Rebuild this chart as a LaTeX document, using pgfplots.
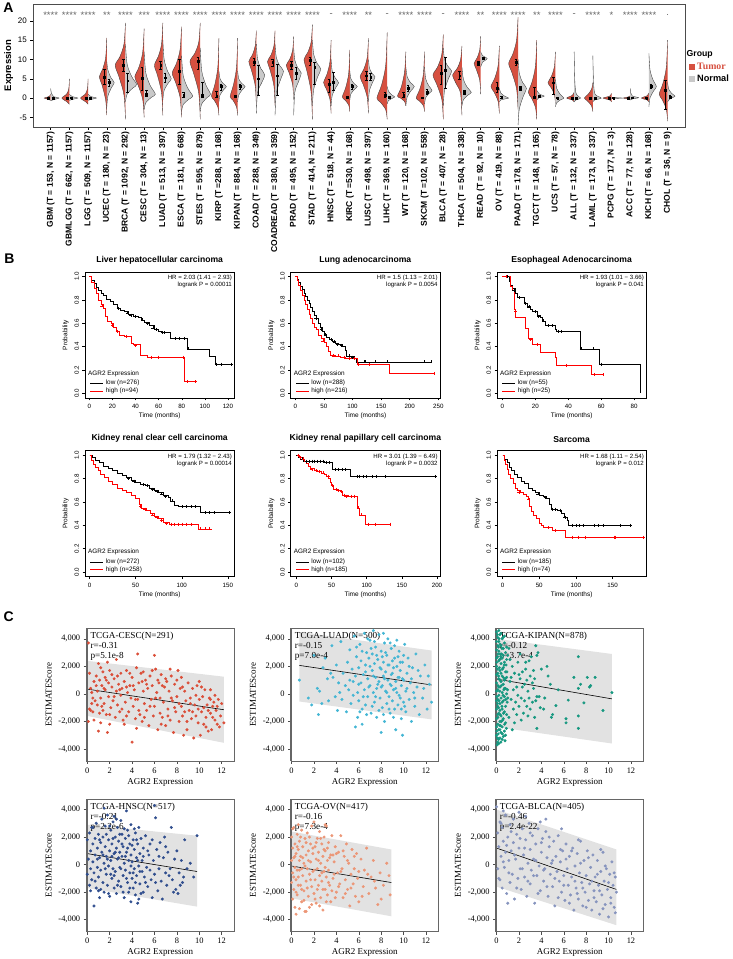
\documentclass[border=0pt]{standalone}
\usepackage{pgfplots}
\pgfplotsset{compat=1.18}
\usepackage{fontspec}
\setmainfont{Liberation Serif}
\newfontfamily\arial{Liberation Sans}
\newcommand\fs[1]{\fontsize{#1}{#1}\selectfont}

\definecolor{tumcol}{RGB}{214,80,64}
\definecolor{norcol}{RGB}{201,201,201}
\definecolor{vline}{RGB}{60,60,60}
\definecolor{bandcol}{RGB}{226,226,226}
\definecolor{cesc}{RGB}{219,78,56}
\definecolor{luad}{RGB}{68,182,212}
\definecolor{kipan}{RGB}{22,152,128}
\definecolor{hnsc}{RGB}{48,78,142}
\definecolor{ov}{RGB}{236,150,118}
\definecolor{blca}{RGB}{134,148,190}

\pgfplotsset{/pgf/number format/assume math mode=true}
\pgfplotsset{legend image code/.code={\draw (0pt,0pt) -- (13pt,0pt);}}
\tikzset{anno/.style={anchor=north west, align=left, font=\fontsize{9.2}{10}\selectfont, inner sep=0pt}}

% half violins: (half width, value) pairs mirrored about the category position
\newcommand\vT[2]{\addplot[draw=vline, line width=0.35pt, fill=tumcol, smooth, x filter/.expression={#1-x}] coordinates {#2};}
\newcommand\vN[2]{\addplot[draw=vline, line width=0.35pt, fill=norcol, smooth, x filter/.expression={#1+x}] coordinates {#2};}
\newcommand\hrtext[1]{\node[anchor=north east, align=right, font=\arial\fontsize{6.1}{7.2}\selectfont, inner sep=0pt] at (rel axis cs:0.985,0.975) {#1};}
\newcommand\legtitle{\node[anchor=south west, font=\arial\fs{6.4}, inner sep=0pt] at (rel axis cs:0.02,0.17) {AGR2 Expression};}

\pgfplotsset{
  km/.style={scale only axis, width=149.3pt, height=126pt,
    ymin=-0.04, ymax=1.04, ytick={0,0.2,0.4,0.6,0.8,1},
    yticklabel style={rotate=90, anchor=south, /pgf/number format/fixed, /pgf/number format/fixed zerofill, /pgf/number format/precision=1},
    tick label style={font=\arial\fs{6.2}},
    xlabel={Time (months)}, ylabel={Probability},
    label style={font=\arial\fs{6.5}},
    xlabel style={yshift=2pt}, ylabel style={yshift=-1pt},
    xtick pos=bottom, ytick pos=left, tick align=outside, major tick length=2.5pt,
    axis line style={black, line width=0.5pt}, tick style={black, line width=0.4pt},
    title style={font=\arial\bfseries\fs{8.6}, yshift=-1.5pt},
    legend style={at={(rel axis cs:0.03,0.01)}, anchor=south west, draw=none, fill=none, font=\arial\fs{6.4}, row sep=-2.5pt, inner sep=0.5pt},
    legend cell align=left},
  lowc/.style={const plot, black, line width=0.6pt},
  highc/.style={const plot, red, line width=0.6pt},
  cens/.style={forget plot, only marks, mark=+, mark size=1.5pt, mark options={line width=0.4pt}},
  scat/.style={scale only axis, width=147.3pt, height=132.5pt, clip=false,
    xmin=-0.05, xmax=13.1, ymin=-4870, ymax=4750,
    xtick={0,2,...,12}, ytick={-4000,-2000,0,2000,4000},
    yticklabels={{-4,000},{-2,000},0,{2,000},{4,000}},
    tick label style={font=\fs{8.4}},
    xlabel={AGR2 Expression}, ylabel={ESTIMATEScore},
    label style={font=\fs{9}}, xlabel style={yshift=2pt},
    xtick pos=bottom, ytick pos=left, tick align=outside, major tick length=3pt,
    axis line style={black!60, line width=0.5pt}, tick style={black!70, line width=0.5pt}},
  dots/.style={only marks, mark=*, mark size=1.3pt}
}

\begin{document}
\begin{tikzpicture}[x=1pt,y=1pt]
\path[use as bounding box] (0,0) rectangle (732,959);

% ---------------- panel A ----------------
\node[font=\arial\bfseries\fs{14}] at (8.5,951) {A};
\begin{axis}[at={(33.3pt,832pt)}, anchor=south west, scale only axis,
  width=651.7pt, height=122.7pt, clip=false,
  xmin=-0.93, xmax=33.93, ymin=-7.5, ymax=24.3,
  xtick={0,...,33},
  xticklabels={{GBM (T = 153, N = 1157)},{GBMLGG (T = 662, N = 1157)},{LGG (T = 509, N = 1157)},{UCEC (T = 180, N = 23)},{BRCA (T = 1092, N = 292)},{CESC (T = 304, N = 13)},{LUAD (T = 513, N = 397)},{ESCA (T = 181, N = 668)},{STES (T = 595, N = 879)},{KIRP (T =288, N = 168)},{KIPAN (T = 884, N = 168)},{COAD (T = 288, N = 349)},{COADREAD (T = 380, N = 359)},{PRAD (T = 495, N = 152)},{STAD (T = 414, N = 211)},{HNSC (T = 518, N = 44)},{KIRC (T =530, N = 168)},{LUSC (T = 498, N = 397)},{LIHC (T = 369, N = 160)},{WT (T = 120, N = 168)},{SKCM (T =102, N = 558)},{BLCA (T = 407, N = 28)},{THCA (T = 504, N = 338)},{READ (T = 92, N = 10)},{OV (T = 419, N = 88)},{PAAD (T = 178, N = 171)},{TGCT (T = 148, N = 165)},{UCS (T = 57, N = 78)},{ALL (T = 132, N = 337)},{LAML (T = 173, N = 337)},{PCPG (T = 177, N = 3)},{ACC (T = 77, N = 128)},{KICH (T = 66, N = 168)},{CHOL (T = 36, N = 9)}},
  xticklabel style={rotate=90, anchor=east, font=\arial\bfseries\fs{8.5}, inner sep=1.5pt},
  ytick={-5,0,5,10,15,20},
  yticklabel style={font=\arial\fs{8}},
  ylabel={Expression}, ylabel style={font=\arial\bfseries\fs{9.5}, yshift=-2pt},
  tick align=outside, xtick pos=bottom, ytick pos=left, major tick length=3pt,
  axis line style={black!70, line width=0.6pt}, tick style={black, line width=0.5pt}]
\vT{0}{(0,-0.6)(0.15,-0.3)(0.35,0)(0.15,0.3)(0.04,0.6)(0,1)}
\vN{0}{(0,-0.7)(0.2,-0.35)(0.45,0)(0.15,0.4)(0.04,1.2)(0,2.5)}
\vT{1}{(0,-1.6)(0.15,-0.9)(0.4,0)(0.15,1)(0.03,2.5)(0,5)}
\vN{1}{(0,-0.6)(0.2,-0.3)(0.45,0)(0.15,0.4)(0,1)}
\vT{2}{(0,-1.6)(0.15,-0.9)(0.4,0)(0.15,1)(0.03,2.5)(0,5)}
\vN{2}{(0,-0.6)(0.2,-0.3)(0.45,0)(0.15,0.4)(0,1)}
\vT{3}{(0,-4.4)(0.06,-0.5)(0.26,3.5)(0.4,5.5)(0.22,7.5)(0.06,10.5)(0,15.6)}
\vN{3}{(0,-2.5)(0.06,0.5)(0.26,2.8)(0.4,4)(0.22,5.3)(0.06,7.3)(0,9.5)}
\vT{4}{(0,-5.5)(0.08,0.8)(0.36,5.7)(0.55,8.5)(0.3,10.7)(0.08,14)(0,19.5)}
\vN{4}{(0,-1)(0.09,1)(0.39,2.6)(0.6,3.5)(0.33,5.6)(0.09,8.8)(0,14)}
\vT{5}{(0,-5)(0.08,-0.3)(0.33,3.4)(0.5,5.5)(0.28,8)(0.08,11.8)(0,18)}
\vN{5}{(0,-3)(0.09,-1.2)(0.39,0.2)(0.6,1)(0.33,3.2)(0.09,6.5)(0,12)}
\vT{6}{(0,-4.5)(0.07,1.4)(0.29,5.9)(0.45,8.5)(0.25,10.7)(0.07,14)(0,19.5)}
\vN{6}{(0,-0.5)(0.07,2)(0.29,3.9)(0.45,5)(0.25,7)(0.07,10)(0,15)}
\vT{7}{(0,-5)(0.08,0.2)(0.33,4.2)(0.5,6.5)(0.28,8.9)(0.08,12.5)(0,18.5)}
\vN{7}{(0,-3.5)(0.09,-1.7)(0.39,-0.3)(0.6,0.5)(0.33,2.6)(0.09,5.8)(0,11)}
\vT{8}{(0,-5.5)(0.08,1.3)(0.36,6.5)(0.55,9.5)(0.3,11.5)(0.08,14.5)(0,19.5)}
\vN{8}{(0,-3.5)(0.08,-1.5)(0.36,0.1)(0.55,1)(0.3,3.4)(0.08,7)(0,13)}
\vT{9}{(0,-4.5)(0.06,-2.3)(0.26,-0.5)(0.4,0.5)(0.22,3.5)(0.06,8)(0,15.5)}
\vN{9}{(0,-1)(0.06,0.8)(0.26,2.2)(0.4,3)(0.22,3.8)(0.06,5)(0,7)}
\vT{10}{(0,-4.5)(0.06,-2.3)(0.26,-0.5)(0.4,0.4)(0.22,3.5)(0.06,8)(0,15.5)}
\vN{10}{(0,-1)(0.06,0.8)(0.26,2.2)(0.4,3)(0.22,3.8)(0.06,5)(0,7)}
\vT{11}{(0,-2)(0.06,3.2)(0.26,7.2)(0.4,9.5)(0.22,11.1)(0.06,13.5)(0,17.5)}
\vN{11}{(0,-4)(0.07,1.5)(0.29,4)(0.45,6)(0.25,7.6)(0.07,10)(0,14)}
\vT{12}{(0,-2)(0.06,3.2)(0.26,7.2)(0.4,9.5)(0.22,11.1)(0.06,13.5)(0,17.5)}
\vN{12}{(0,-4.5)(0.07,1.3)(0.29,4.7)(0.45,7)(0.25,8.4)(0.07,10.5)(0,14)}
\vT{13}{(0,-0.5)(0.06,3.5)(0.26,6.7)(0.4,8.5)(0.22,10)(0.06,12.3)(0,16)}
\vN{13}{(0,-4.5)(0.06,1.5)(0.26,4.3)(0.4,6.5)(0.22,7.8)(0.06,9.8)(0,13)}
\vT{14}{(0,-5.5)(0.07,1.5)(0.29,6.9)(0.45,10)(0.25,11.8)(0.07,14.5)(0,19)}
\vN{14}{(0,-2)(0.07,2.3)(0.29,5.6)(0.45,7.5)(0.25,9)(0.07,11.3)(0,15)}
\vT{15}{(0,-4)(0.06,-0.4)(0.26,2.4)(0.4,4)(0.22,6.2)(0.06,9.5)(0,15)}
\vN{15}{(0,-2)(0.06,0.7)(0.26,2.8)(0.4,4)(0.22,5.2)(0.06,7)(0,10)}
\vT{16}{(0,-3.5)(0.06,-1.8)(0.26,-0.5)(0.4,0.3)(0.22,2.7)(0.06,6.4)(0,12.5)}
\vN{16}{(0,-0.5)(0.06,1.1)(0.26,2.3)(0.4,3)(0.22,3.8)(0.06,5)(0,7)}
\vT{17}{(0,-4)(0.07,0.2)(0.29,3.6)(0.45,5.5)(0.25,7.5)(0.07,10.5)(0,15.5)}
\vN{17}{(0,-1)(0.05,1.9)(0.23,4.2)(0.35,5.5)(0.19,6.4)(0.05,7.8)(0,10)}
\vT{18}{(0,-5.5)(0.08,-3)(0.36,-1.1)(0.55,0)(0.3,3.4)(0.08,8.5)(0,17)}
\vN{18}{(0,-1.5)(0.06,-0.7)(0.26,-0.1)(0.4,0.3)(0.22,0.9)(0.06,1.9)(0,3)}
\vT{19}{(0,-2)(0.07,-0.9)(0.29,0)(0.45,0.5)(0.25,2.8)(0.07,6.8)(0,12)}
\vN{19}{(0,-2)(0.07,0.3)(0.29,2)(0.45,3)(0.25,4)(0.07,5.5)(0,8)}
\vT{20}{(0,-3.5)(0.07,-1.9)(0.29,-0.7)(0.45,0)(0.25,2.4)(0.07,6)(0,12)}
\vN{20}{(0,-1.5)(0.06,0.1)(0.26,1.3)(0.4,2)(0.22,3.2)(0.06,5)(0,8)}
\vT{21}{(0,-5.5)(0.08,-0.3)(0.36,3.7)(0.55,6)(0.3,8.1)(0.08,11.3)(0,16.5)}
\vN{21}{(0,-2)(0.07,2)(0.29,5.2)(0.45,7)(0.25,8.2)(0.07,10)(0,13)}
\vT{22}{(0,-4.5)(0.08,1.3)(0.33,3.9)(0.5,6)(0.28,7.5)(0.08,9.8)(0,13.5)}
\vN{22}{(0,-2)(0.08,-0.4)(0.33,0.8)(0.5,1.5)(0.28,2.8)(0.08,4.8)(0,8)}
\vT{23}{(0,1)(0.05,4.6)(0.23,7.4)(0.35,9)(0.19,10.4)(0.05,12.5)(0,16)}
\vN{23}{(0,8)(0.1,9.3)(0.35,10.2)(0.1,11)(0,12)}
\vT{24}{(0,-4)(0.07,-0.8)(0.29,1.6)(0.45,3)(0.25,5.1)(0.07,8.3)(0,13.5)}
\vN{24}{(0,-1)(0.08,-0.5)(0.33,-0.2)(0.5,0)(0.28,0.5)(0.08,1.3)(0,2.5)}
\vT{25}{(0,-3)(0.08,2.4)(0.33,6.6)(0.5,9)(0.28,11.4)(0.08,15)(0,21)}
\vN{25}{(0,-7)(0.07,-2.8)(0.29,0.6)(0.45,2.5)(0.25,4)(0.07,6.3)(0,10)}
\vT{26}{(0,-5.5)(0.07,-2.4)(0.29,0.1)(0.45,1.5)(0.25,4.2)(0.07,8.3)(0,15)}
\vN{26}{(0,-0.5)(0.1,0)(0.4,0.5)(0.15,1)(0,2)}
\vT{27}{(0,-1.5)(0.06,1)(0.26,2.9)(0.4,4)(0.22,5.6)(0.06,8)(0,12)}
\vN{27}{(0,-2.3)(0.07,-1.2)(0.3,-0.4)(0.45,0)(0.25,1)(0.07,2.5)(0,5)}
\vT{28}{(0,-1)(0.1,-0.5)(0.4,0)(0.1,0.7)(0,1.5)}
\vN{28}{(0,-1)(0.1,-0.5)(0.35,0)(0.12,1)(0.04,4)(0,12)}
\vT{29}{(0,-3.5)(0.07,-2)(0.3,-0.7)(0.45,0)(0.25,1)(0.07,2.3)(0,4)}
\vN{29}{(0,-1)(0.1,-0.5)(0.45,0)(0.12,1)(0.04,4)(0,11)}
\vT{30}{(0,-1)(0.1,-0.5)(0.45,0)(0.1,0.5)(0,1.2)}
\vN{30}{(0,-0.15)(0.6,0)(0,0.15)}
\vT{31}{(0,-0.5)(0.1,-0.25)(0.37,0)(0.1,0.3)(0,0.6)}
\vN{31}{(0,-0.5)(0.15,-0.2)(0.45,0.1)(0.12,0.5)(0.03,1.3)(0,2.5)}
\vT{32}{(0,-1)(0.1,-0.5)(0.4,0)(0.1,0.6)(0,1.3)}
\vN{32}{(0,-2.3)(0.06,0.1)(0.26,1.9)(0.4,3)(0.22,4.7)(0.06,7.3)(0,11.6)}
\vT{33}{(0,-6)(0.07,-2.9)(0.29,-0.4)(0.45,1)(0.25,3.8)(0.07,8)(0,15)}
\vN{33}{(0,-1)(0.08,-0.4)(0.3,0.2)(0.4,0.5)(0.22,1.2)(0.06,2.3)(0,4)}
% medians with interquartile ranges
\addplot[black, only marks, mark=square*, mark size=0.9pt,
  error bars/.cd, y dir=both, y explicit,
  error bar style={line width=0.5pt, black}, error mark options={rotate=90, mark size=1.3pt, line width=0.5pt}]
  coordinates {
  (-0.12,0) += (0,0.2) -= (0,0.2)   (0.12,0) += (0,0.3) -= (0,0.1)
  (0.88,0) += (0,0.3) -= (0,0.3)    (1.12,0) += (0,0.1) -= (0,0.1)
  (1.88,0) += (0,0.3) -= (0,0.3)    (2.12,0) += (0,0.1) -= (0,0.1)
  (2.88,5.5) += (0,2) -= (0,2)      (3.12,4.2) += (0,0.8) -= (0,1.2)
  (3.88,8.5) += (0,1.5) -= (0,1.5)  (4.12,4.5) += (0,2) -= (0,3)
  (4.88,5.2) += (0,2.8) -= (0,3.2)  (5.12,1) += (0,1) -= (0,0.5)
  (5.88,8.5) += (0,1) -= (0,1)      (6.12,5.3) += (0,1) -= (0,1.3)
  (6.88,7) += (0,3) -= (0,3.5)      (7.12,0.8) += (0,0.7) -= (0,0.5)
  (7.88,9.5) += (0,1) -= (0,2)      (8.12,0.8) += (0,3.2) -= (0,0.5)
  (8.88,0.6) += (0,1.1) -= (0,0.4)  (9.12,3) += (0,0.5) -= (0,1)
  (9.88,0.4) += (0,0.4) -= (0,0.3)  (10.12,3) += (0,0.7) -= (0,0.8)
  (10.88,9.2) += (0,1) -= (0,0.7)   (11.12,5) += (0,3.5) -= (0,4.2)
  (11.88,9.2) += (0,0.8) -= (0,1)   (12.12,5.8) += (0,2.9) -= (0,5.1)
  (12.88,8.5) += (0,1) -= (0,1)     (13.12,6.5) += (0,1.5) -= (0,1.5)
  (13.88,9.8) += (0,0.9) -= (0,1.3) (14.12,8) += (0,1.2) -= (0,4.5)
  (14.88,3.5) += (0,1.5) -= (0,2)   (15.12,4.2) += (0,2.5) -= (0,2.2)
  (15.88,0.2) += (0,0.3) -= (0,0.2) (16.12,3) += (0,0.6) -= (0,0.6)
  (16.88,5.8) += (0,1.2) -= (0,1.3) (17.12,5.5) += (0,1) -= (0,1)
  (17.88,0.7) += (0,0.8) -= (0,0.4) (18.12,0.3) += (0,0.2) -= (0,0.2)
  (18.88,0.7) += (0,0.9) -= (0,0.4) (19.12,2.5) += (0,0.8) -= (0,0.7)
  (19.88,0.1) += (0,0.2) -= (0,0.1) (20.12,1.5) += (0,0.8) -= (0,0.5)
  (20.88,6.5) += (0,2) -= (0,3)     (21.12,7.3) += (0,3.2) -= (0,4.8)
  (21.88,5.8) += (0,1.2) -= (0,0.8) (22.12,1.5) += (0,0.5) -= (0,0.5)
  (22.88,9) += (0,0.5) -= (0,0.5)   (23.12,10.3) += (0,0.3) -= (0,0.3)
  (23.88,2.5) += (0,1.5) -= (0,1)   (24.12,0.2) += (0,0.2) -= (0,0.2)
  (24.88,9.2) += (0,0.8) -= (0,0.7) (25.12,2.5) += (0,0.5) -= (0,0.5)
  (25.88,0.3) += (0,2.5) -= (0,0.2) (26.12,0.5) += (0,0.2) -= (0,0.2)
  (26.88,4) += (0,1.5) -= (0,3)     (27.12,0) += (0,0.1) -= (0,0.1)
  (27.88,0) += (0,0.1) -= (0,0.1)   (28.12,0) += (0,0.1) -= (0,0.1)
  (28.88,0) += (0,0.1) -= (0,0.1)   (29.12,0) += (0,0.1) -= (0,0.1)
  (29.88,0) += (0,0.1) -= (0,0.1)   (30.12,0) += (0,0.1) -= (0,0.1)
  (30.88,0) += (0,0.1) -= (0,0.1)   (31.12,0.1) += (0,0.1) -= (0,0.1)
  (31.88,0) += (0,0.1) -= (0,0.1)   (32.12,3) += (0,0.7) -= (0,0.5)
  (32.88,2) += (0,2.7) -= (0,5)     (33.12,0.3) += (0,0.3) -= (0,0.3)
  };
% significance marks
\addplot[draw=none, mark=none, nodes near coords, point meta=explicit symbolic,
  every node near coord/.style={font=\arial\fs{9.5}, text=black!60, anchor=center}]
  table[row sep=\\, meta=s] {x y s\\
  0 21.4 ****\\ 1 21.4 ****\\ 2 21.4 ****\\ 3 21.4 **\\ 4 21.4 ****\\ 5 21.4 ***\\
  6 21.4 ****\\ 7 21.4 ****\\ 8 21.4 ****\\ 9 21.4 ****\\ 10 21.4 ****\\ 11 21.4 ****\\
  12 21.4 ****\\ 13 21.4 ****\\ 14 21.4 ****\\ 15 21.4 -\\ 16 21.4 ****\\ 17 21.4 **\\
  18 21.4 -\\ 19 21.4 ****\\ 20 21.4 ****\\ 21 21.4 -\\ 22 21.4 ****\\ 23 21.4 **\\
  24 21.4 ****\\ 25 21.4 ****\\ 26 21.4 **\\ 27 21.4 ****\\ 28 21.4 -\\ 29 21.4 ****\\
  30 21.4 *\\ 31 21.4 ****\\ 32 21.4 ****\\ 33 21.4 .\\};
\end{axis}
% group legend
\node[anchor=west, font=\arial\bfseries\fs{8.7}, inner sep=0pt] at (686.5,905) {Group};
\fill[tumcol] (688.5,889) rectangle (694.5,895);
\node[anchor=west, font=\bfseries\fs{9.8}, text=tumcol, inner sep=0pt] at (697,892.5) {Tumor};
\fill[norcol] (688.5,877) rectangle (694.5,883);
\node[anchor=west, font=\arial\bfseries\fs{9.2}, inner sep=0pt] at (697,880.5) {Normal};

% ---------------- panel B ----------------
\node[font=\arial\bfseries\fs{14}] at (9.5,700) {B};
\begin{axis}[km, at={(85pt,561pt)}, anchor=south west, xmin=-3.7, xmax=125.5, xtick={0,20,...,120}, title={Liver hepatocellular carcinoma}]
\addplot[lowc] coordinates {(0,1)(2,0.97)(4,0.94)(6,0.91)(8,0.88)(10,0.86)(12,0.84)(15,0.81)(18,0.79)(21,0.76)(24,0.73)(27,0.71)(30,0.70)(34,0.68)(38,0.66)(42,0.65)(45,0.63)(48,0.61)(52,0.58)(56,0.55)(60,0.53)(62,0.52)(70,0.47)(85,0.38)(104,0.32)(109,0.25)(123,0.25)};
\addplot[highc] coordinates {(0,1)(2,0.95)(4,0.9)(6,0.86)(8,0.8)(10,0.76)(12,0.73)(14,0.66)(16,0.62)(19,0.6)(21,0.57)(23,0.53)(26,0.5)(30,0.49)(36,0.43)(38,0.42)(44,0.33)(50,0.31)(82,0.1)(92,0.1)};
\addplot[cens, black] coordinates {(25,0.73)(33,0.69)(36,0.67)(40,0.66)(46,0.63)(50,0.6)(55,0.56)(58,0.55)(63,0.52)(65,0.52)(74,0.47)(78,0.47)(82,0.47)(86,0.38)(110,0.25)(114,0.25)(123,0.25)};
\addplot[cens, red] coordinates {(11,0.75)(20,0.58)(24,0.53)(32,0.49)(40,0.41)(54,0.31)(60,0.31)(81,0.31)(85,0.1)(92,0.1)};
\legend{low (n=276), high (n=94)}
\legtitle
\hrtext{HR = 2.03 (1.41 − 2.93)\\logrank P = 0.00011}
\end{axis}

\begin{axis}[km, at={(290.7pt,561pt)}, anchor=south west, xmin=-8, xmax=253, xtick={0,50,...,250}, title={Lung adenocarcinoma}]
\addplot[lowc] coordinates {(0,1)(3,0.98)(6,0.95)(9,0.92)(12,0.89)(15,0.86)(18,0.83)(21,0.80)(24,0.77)(27,0.74)(30,0.70)(33,0.67)(36,0.64)(40,0.6)(43,0.57)(47,0.53)(50,0.51)(55,0.48)(60,0.46)(65,0.45)(70,0.43)(75,0.42)(82,0.40)(87,0.37)(89,0.32)(104,0.30)(107,0.27)(238,0.27)};
\addplot[highc] coordinates {(0,1)(3,0.97)(6,0.93)(9,0.88)(12,0.84)(15,0.80)(18,0.76)(21,0.72)(24,0.68)(27,0.64)(30,0.60)(33,0.57)(36,0.55)(40,0.50)(45,0.47)(50,0.44)(55,0.40)(58,0.36)(62,0.33)(70,0.32)(78,0.31)(87,0.30)(108,0.25)(165,0.17)(243,0.17)};
\addplot[cens, black] coordinates {(36,0.64)(45,0.55)(52,0.5)(62,0.46)(68,0.44)(74,0.42)(80,0.41)(95,0.32)(100,0.31)(120,0.27)(123,0.27)(140,0.27)(160,0.27)(225,0.27)(237,0.27)};
\addplot[cens, red] coordinates {(48,0.45)(66,0.32)(75,0.32)(85,0.31)(95,0.30)(103,0.30)(110,0.25)(130,0.25)(242,0.17)};
\legend{low (n=288), high (n=216)}
\legtitle
\hrtext{HR = 1.5 (1.13 − 2.01)\\logrank P = 0.0054}
\end{axis}

\begin{axis}[km, at={(497pt,561pt)}, anchor=south west, xmin=-3.3, xmax=87.4, xtick={0,20,...,80}, title={Esophageal Adenocarcinoma}]
\addplot[lowc] coordinates {(0,1)(4,0.96)(5,0.93)(6,0.9)(8,0.86)(9,0.82)(13,0.77)(15,0.75)(17,0.72)(18,0.7)(21,0.67)(23,0.65)(24,0.62)(26,0.58)(32,0.55)(33,0.53)(47,0.38)(59,0.25)(84,0)};
\addplot[highc] coordinates {(0,1)(5,0.92)(6,0.88)(7,0.72)(8,0.65)(14,0.56)(16,0.47)(18,0.42)(23,0.35)(32,0.31)(33,0.24)(54,0.16)(61,0.16)};
\addplot[cens, black] coordinates {(3,1)(7,0.88)(10,0.82)(14,0.77)(16,0.74)(20,0.7)(22,0.66)(25,0.62)(28,0.58)(30,0.58)(34,0.53)(36,0.53)(48,0.38)(55,0.38)(60,0.25)};
\addplot[cens, red] coordinates {(2,1)(8,0.7)(17,0.46)(21,0.42)(39,0.24)(56,0.16)(61,0.16)};
\legend{low (n=55), high (n=25)}
\legtitle
\hrtext{HR = 1.93 (1.01 − 3.66)\\logrank P = 0.041}
\end{axis}

\begin{axis}[km, at={(85pt,382.3pt)}, anchor=south west, xmin=-5, xmax=157, xtick={0,50,100,150}, title={Kidney renal clear cell carcinoma}]
\addplot[lowc] coordinates {(0,1)(3,0.98)(6,0.96)(10,0.94)(15,0.91)(20,0.89)(25,0.87)(30,0.85)(35,0.83)(40,0.81)(45,0.79)(50,0.77)(55,0.75)(60,0.74)(65,0.72)(70,0.70)(75,0.68)(80,0.66)(85,0.64)(88,0.61)(92,0.57)(96,0.56)(120,0.51)(152,0.51)};
\addplot[highc] coordinates {(0,1)(2,0.96)(4,0.92)(6,0.9)(9,0.87)(12,0.84)(16,0.81)(20,0.78)(25,0.75)(30,0.72)(35,0.70)(40,0.68)(45,0.66)(50,0.63)(54,0.58)(56,0.55)(62,0.53)(66,0.50)(70,0.48)(75,0.46)(80,0.43)(86,0.41)(118,0.37)(133,0.37)};
\addplot[cens, black] coordinates {(42,0.8)(48,0.78)(58,0.75)(62,0.74)(68,0.71)(73,0.69)(78,0.67)(82,0.65)(90,0.61)(100,0.56)(105,0.56)(110,0.56)(115,0.56)(125,0.51)(130,0.51)(135,0.51)(152,0.51)};
\addplot[cens, red] coordinates {(55,0.56)(60,0.54)(68,0.49)(73,0.47)(78,0.44)(83,0.42)(88,0.41)(92,0.41)(96,0.41)(100,0.41)(105,0.41)(110,0.41)(120,0.37)(125,0.37)(130,0.37)};
\legend{low (n=272), high (n=258)}
\legtitle
\hrtext{HR = 1.79 (1.32 − 2.43)\\logrank P = 0.00014}
\end{axis}

\begin{axis}[km, at={(290.7pt,382.3pt)}, anchor=south west, xmin=-8.1, xmax=204.3, xtick={0,50,...,200}, title={Kidney renal papillary cell carcinoma}]
\addplot[lowc] coordinates {(0,1)(3,0.99)(6,0.97)(10,0.95)(40,0.94)(51,0.88)(76,0.82)(198,0.82)};
\addplot[highc] coordinates {(0,1)(2,0.99)(5,0.98)(8,0.97)(11,0.95)(14,0.93)(17,0.91)(20,0.89)(25,0.87)(30,0.86)(35,0.85)(40,0.84)(43,0.82)(46,0.80)(48,0.77)(50,0.74)(52,0.71)(58,0.70)(62,0.69)(66,0.66)(74,0.65)(86,0.55)(89,0.49)(94,0.49)(98,0.41)(133,0.41)};
\addplot[cens, black] coordinates {(2,1)(5,0.98)(8,0.97)(14,0.95)(18,0.95)(22,0.95)(26,0.95)(30,0.95)(34,0.95)(38,0.95)(42,0.94)(46,0.94)(55,0.88)(60,0.88)(65,0.88)(70,0.88)(86,0.82)(90,0.82)(95,0.82)(100,0.82)(108,0.82)(113,0.82)(127,0.82)(198,0.82)};
\addplot[cens, red] coordinates {(3,1)(6,0.98)(10,0.97)(22,0.88)(28,0.87)(33,0.86)(38,0.85)(45,0.82)(51,0.74)(56,0.71)(60,0.7)(64,0.69)(68,0.66)(71,0.65)(78,0.65)(82,0.65)(88,0.55)(92,0.49)(102,0.41)(112,0.41)(133,0.41)};
\legend{low (n=102), high (n=185)}
\legtitle
\hrtext{HR = 3.01 (1.39 − 6.49)\\logrank P = 0.0032}
\end{axis}

\begin{axis}[km, at={(497pt,382.3pt)}, anchor=south west, xmin=-7.6, xmax=196, xtick={0,50,100,150}, title={Sarcoma}]
\addplot[lowc] coordinates {(0,1)(3,0.97)(6,0.94)(9,0.90)(12,0.87)(16,0.84)(20,0.81)(25,0.78)(30,0.76)(35,0.72)(40,0.70)(45,0.68)(50,0.66)(55,0.65)(60,0.63)(64,0.58)(66,0.54)(75,0.53)(80,0.50)(84,0.47)(88,0.44)(90,0.40)(174,0.40)};
\addplot[highc] coordinates {(0,1)(2,0.96)(4,0.92)(6,0.88)(8,0.84)(10,0.80)(14,0.76)(17,0.72)(20,0.70)(24,0.68)(28,0.67)(32,0.65)(35,0.62)(37,0.56)(39,0.52)(42,0.49)(46,0.46)(50,0.42)(53,0.40)(55,0.38)(68,0.36)(86,0.30)(192,0.30)};
\addplot[cens, black] coordinates {(48,0.67)(58,0.64)(68,0.54)(72,0.54)(78,0.53)(85,0.47)(95,0.4)(100,0.4)(105,0.4)(110,0.4)(125,0.4)(130,0.4)(137,0.4)(161,0.4)(174,0.4)};
\addplot[cens, red] coordinates {(22,0.68)(36,0.62)(62,0.38)(72,0.36)(95,0.3)(103,0.3)(112,0.3)(152,0.3)(154,0.3)(192,0.3)};
\legend{low (n=185), high (n=74)}
\legtitle
\hrtext{HR = 1.68 (1.11 − 2.54)\\logrank P = 0.012}
\end{axis}

% ---------------- panel C ----------------
\node[font=\arial\bfseries\fs{14}] at (8.7,342) {C};
\begin{axis}[scat, at={(86.7pt,198pt)}, anchor=south west]
\addplot[fill=bandcol, draw=none] coordinates {(0,2400)(12.2,1250)(12.2,-3550)(0,-1600)};
\node[anno] at (rel axis cs:0.025,0.975) {TCGA-CESC(N=291)\\r=-0.31\\p=5.1e-8};
\addplot[dots, cesc] coordinates {(0.1,3700)(0.1,-2000)(0.2,-1100)(0.3,400)(0.3,-1200)(0.4,100)(0.5,-300)(0.5,-1300)(0.6,900)(0.7,-500)(0.8,1300)(0.9,-800)(0.9,200)(1.0,2200)(1.0,-2700)(1.1,1000)(1.1,-1400)(1.2,-300)(1.3,600)(1.4,1600)(1.4,-1200)(1.5,-700)(1.6,1200)(1.6,300)(1.7,-1500)(1.8,2300)(1.8,-2800)(1.9,800)(1.9,-200)(2.0,1700)(2.1,-1000)(2.2,500)(2.3,-500)(2.4,1100)(2.5,-1700)(2.6,2500)(2.6,200)(2.7,-800)(2.8,700)(2.9,-1300)(3.0,1500)(3.0,-100)(3.1,400)(3.2,-1900)(3.3,900)(3.4,-600)(3.5,1700)(3.6,100)(3.7,-1300)(3.8,600)(3.9,-300)(4.0,-3500)(4.0,1200)(4.1,-900)(4.2,300)(4.3,-1800)(4.4,1900)(4.5,2900)(4.5,-400)(4.6,800)(4.7,-1500)(4.8,1500)(4.9,-2000)(5.0,200)(5.1,-700)(5.2,1000)(5.3,-1200)(5.4,400)(5.5,-2300)(5.6,1300)(5.7,-400)(5.8,600)(5.9,-1600)(6.0,2800)(6.0,-900)(6.1,1800)(6.2,100)(6.3,-2600)(6.4,800)(6.5,-300)(6.6,1400)(6.7,-1700)(6.8,-600)(6.9,500)(7.0,-2300)(7.1,900)(7.2,-1100)(7.3,200)(7.4,-1900)(7.5,1300)(7.6,-500)(7.7,-2800)(7.8,700)(7.9,-1300)(8.0,-200)(8.1,1700)(8.2,-2000)(8.3,400)(8.4,-900)(8.5,-1600)(8.6,-3000)(8.7,200)(8.8,-500)(8.9,-2000)(9.0,800)(9.1,-1200)(9.2,-300)(9.3,-1800)(9.4,400)(9.5,-3200)(9.6,-800)(9.7,-1600)(9.8,600)(9.9,-2100)(10.0,900)(10.0,-400)(10.1,-3000)(10.2,-1300)(10.3,-200)(10.4,-2200)(10.5,300)(10.6,-1700)(10.7,-800)(10.8,-2700)(10.9,-300)(11.0,300)(11.0,-1400)(11.1,-2600)(11.2,-900)(11.3,-600)(11.4,-1900)(11.5,-1200)(11.6,-2200)(11.7,-400)(11.9,-1600)(12.2,-2100)};
\addplot[dots, cesc] coordinates {(0.2,1500)(0.4,-700)(0.6,-1900)(0.8,600)(1.2,1900)(1.3,-900)(1.5,400)(1.7,1000)(2.0,-1500)(2.2,1400)(2.4,-200)(2.7,1300)(2.9,300)(3.1,-1100)(3.3,-2200)(3.5,500)(3.8,1500)(4.1,600)(4.3,-400)(4.6,-1200)(4.9,900)(5.1,-1700)(5.3,700)(5.6,-900)(5.8,1700)(6.1,-300)(6.3,1000)(6.5,-1400)(6.7,600)(7.0,1100)(7.2,-1600)(7.5,-300)(7.8,-1000)(8.0,1000)(8.2,-700)(8.5,500)(8.7,-1300)(8.9,-2600)(9.2,-700)(9.4,-1300)(9.7,-100)(9.9,-1100)(10.2,500)(10.4,-1000)(10.6,-2400)(10.8,-1200)(11.0,-400)(11.2,-1700)(11.4,-100)(11.6,-900)(11.8,-2400)(12.0,-700)(2.0,-2200)(3.5,-1600)(5.0,1600)(6.6,-2200)(8.4,1200)(1.2,-2100)(4.4,-2500)(7.4,1800)};
\addplot[black, line width=0.6pt] coordinates {(0,350)(12.2,-1150)};
\draw[line width=1.6pt, black!60] (rel axis cs:0,0) -- (rel axis cs:0,1);
\end{axis}

\begin{axis}[scat, at={(291pt,198pt)}, anchor=south west]
\addplot[fill=bandcol, draw=none] coordinates {(0.7,4500)(12.5,3150)(12.5,-1850)(0.7,-550)};
\node[anno] at (rel axis cs:0.025,0.975) {TCGA-LUAD(N=500)\\r=-0.15\\p=7.0e-4};
\addplot[dots, luad] coordinates {(0.7,1000)(1.5,-300)(1.8,-800)(2.0,2800)(2.3,400)(2.4,-1500)(2.5,200)(2.8,1900)(3.0,2600)(3.2,1100)(3.3,-500)(3.6,3500)(3.7,1200)(3.9,-200)(4.0,2100)(4.1,-1200)(4.2,800)(4.4,3800)(4.5,-400)(4.6,1500)(4.8,600)(4.9,-1300)(5.0,2300)(5.1,300)(5.2,3200)(5.3,-700)(5.4,1800)(5.5,900)(5.6,4200)(5.7,-2400)(5.7,1300)(5.8,2700)(5.9,100)(6.0,1900)(6.0,-500)(6.1,3600)(6.2,800)(6.2,2400)(6.3,-1100)(6.4,1400)(6.5,4400)(6.5,300)(6.6,2100)(6.6,-800)(6.7,3000)(6.8,1100)(6.8,-200)(6.9,2600)(7.0,600)(7.0,3900)(7.1,-1400)(7.2,1700)(7.2,2900)(7.3,100)(7.4,2200)(7.4,-600)(7.5,1200)(7.5,3400)(7.6,400)(7.6,-1700)(7.7,2500)(7.8,900)(7.8,4300)(7.9,-300)(8.0,1800)(8.0,3100)(8.1,-1000)(8.1,600)(8.2,2300)(8.2,1300)(8.3,-2000)(8.3,3700)(8.4,200)(8.4,1600)(8.5,2800)(8.5,-700)(8.6,1000)(8.6,4000)(8.7,-200)(8.7,2100)(8.8,700)(8.8,-1400)(8.9,3300)(8.9,1400)(9.0,-500)(9.0,2400)(9.1,300)(9.1,1900)(9.2,-1100)(9.2,3500)(9.3,900)(9.3,-2600)(9.4,2000)(9.4,100)(9.5,2700)(9.5,-800)(9.6,1200)(9.6,3100)(9.7,-300)(9.7,1700)(9.8,600)(9.8,-1800)(9.9,2300)(10.0,-600)(10.0,1000)(10.1,3600)(10.2,200)(10.2,-1300)(10.3,1500)(10.4,2600)(10.5,-400)(10.6,800)(10.7,-2000)(10.8,1900)(10.9,100)(11.0,-900)(11.1,2900)(11.2,500)(11.4,-1500)(11.5,1300)(11.7,-300)(11.9,2100)(12.1,-1100)(12.3,700)(12.5,-600)(7.3,4600)(8.0,-2800)(9.9,-3000)(6.3,-2200)};
\addplot[dots, luad] coordinates {(5.2,1000)(5.5,-100)(5.8,3400)(6.0,700)(6.1,-1300)(6.3,3100)(6.4,-200)(6.6,1600)(6.7,-1500)(6.9,500)(7.0,2000)(7.1,3300)(7.2,-900)(7.3,1300)(7.4,3800)(7.5,-200)(7.6,2800)(7.7,700)(7.8,-1200)(7.9,1900)(8.0,500)(8.1,2700)(8.2,-1500)(8.3,1100)(8.4,3000)(8.5,100)(8.6,2100)(8.7,-1100)(8.8,3700)(8.9,600)(9.0,1500)(9.1,-1700)(9.2,2600)(9.3,400)(9.4,3900)(9.5,1200)(9.6,-100)(9.7,2300)(9.8,-1100)(9.9,1100)(10.0,2800)(10.1,-900)(10.3,400)(10.5,2000)(10.7,1100)(11.0,-300)(11.3,1700)(11.8,400)(12.2,1300)(4.3,100)(3.5,1500)(2.7,-700)(5.9,-1700)(6.8,4000)(8.2,4400)};
\addplot[black, line width=0.6pt] coordinates {(0.7,2070)(12.5,650)};
\draw[line width=1.6pt, black!60] (rel axis cs:0,0) -- (rel axis cs:0,1);
\end{axis}

\begin{axis}[scat, at={(496pt,198pt)}, anchor=south west]
\addplot[fill=bandcol, draw=none] coordinates {(0,4000)(10.3,2900)(10.3,-3600)(0,-2400)};
\node[anno] at (rel axis cs:0.025,0.975) {TCGA-KIPAN(N=878)\\r=-0.12\\p=3.7e-4};
\addplot[dots, kipan] coordinates {(0.0,4500)(0.0,3200)(0.0,2000)(0.0,800)(0.0,-500)(0.0,-1800)(0.0,-3000)(0.1,4100)(0.1,2700)(0.1,1500)(0.1,300)(0.1,-900)(0.1,-2200)(0.1,-3500)(0.2,3800)(0.2,2400)(0.2,1100)(0.2,-100)(0.2,-1400)(0.2,-2600)(0.2,-3600)(0.3,4300)(0.3,2900)(0.3,1700)(0.3,500)(0.3,-700)(0.3,-2000)(0.3,-3200)(0.4,3500)(0.4,2200)(0.4,900)(0.4,-300)(0.4,-1600)(0.4,-2800)(0.5,4000)(0.5,2600)(0.5,1300)(0.5,100)(0.5,-1100)(0.5,-2400)(0.6,3300)(0.6,1900)(0.6,700)(0.6,-500)(0.6,-1800)(0.6,-3100)(0.7,3700)(0.7,2300)(0.7,1000)(0.7,-200)(0.7,-1300)(0.7,-2700)(0.8,3000)(0.8,1600)(0.8,400)(0.8,-900)(0.8,-2100)(0.9,2500)(0.9,1200)(0.9,0)(0.9,-1500)(0.0,3800)(0.0,2600)(0.0,1400)(0.0,200)(0.0,-1100)(0.0,-2400)(0.1,3500)(0.1,-400)(0.1,-1500)(0.2,4600)(0.2,3100)(0.2,500)(0.3,-1200)(0.3,-2600)(0.4,4400)(0.4,1500)(0.5,-600)(0.5,-3300)(0.6,2800)(0.6,1200)(0.7,4200)(0.7,400)(0.8,-3000)(0.9,3400)(0.05,-3700)(0.15,-2900)(0.25,1900)(0.35,-2300)(0.45,2900)(0.55,-1900)(0.65,300)(0.75,-3400)(0.85,2100)(0.95,-600)};
\addplot[dots, kipan] coordinates {(0.02,2300)(0.02,-200)(0.02,-2700)(0.08,4300)(0.08,1800)(0.08,-700)(0.08,-3200)(0.12,2900)(0.12,600)(0.12,-1700)(0.18,3400)(0.18,1300)(0.18,-1000)(0.18,-3300)(0.22,4000)(0.22,-500)(0.28,2500)(0.28,200)(0.28,-2300)(0.32,3600)(0.32,1000)(0.32,-1500)(0.38,-3500)(0.38,2700)(0.42,600)(0.42,-2000)(0.48,3300)(0.48,-900)(0.52,1800)(0.52,-2900)(0.58,4100)(0.58,-100)(0.62,-1400)(0.68,2100)(0.72,-2200)(0.78,1100)(0.82,-400)(0.88,-2500)(0.92,1600)(0.98,300)};
\addplot[dots, kipan] coordinates {(1.0,2800)(1.1,-1700)(1.2,900)(1.3,-400)(1.4,2000)(1.5,-1100)(1.6,1500)(1.7,-600)(1.8,500)(1.9,2300)(2.0,-900)(2.1,1100)(2.2,-300)(2.3,1600)(2.4,-1400)(2.5,700)(2.6,1800)(2.7,-900)(2.8,200)(2.9,2400)(3.0,1300)(3.1,2700)(3.2,-600)(3.3,400)(3.4,-1700)(3.5,3500)(3.6,-200)(3.7,3000)(3.8,-200)(4.0,1800)(1.2,2500)(1.5,300)(1.8,-1500)(2.0,1400)(2.2,-1900)(2.5,-500)(2.7,1000)(3.0,-1100)(3.3,1700)(3.5,-500)(1.0,-300)(1.3,1200)(1.6,-2100)(1.9,-100)(2.3,500)(2.6,2300)(2.9,-300)(3.2,800)(3.6,2800)(3.9,-1000)(1.1,3300)(1.4,-2600)(2.1,2900)(2.8,-1600)(3.4,1100)(4.5,2000)(4.6,1300)(4.3,-300)(4.8,700)(4.9,-1700)(5.0,-1500)(5.3,-850)(6.2,-1800)(6.2,-2100)(6.4,-450)(6.9,1200)(7.3,2700)(7.3,400)(7.3,-1600)(7.3,-2500)(7.5,700)(7.8,-650)(8.1,1200)(8.3,500)(8.4,600)(8.8,1200)(9.5,-1200)(10.3,100)(3.6,-2500)(4.2,-1100)(5.5,300)};
\addplot[black, line width=0.6pt] coordinates {(0,1080)(10.3,-360)};
\draw[line width=1.6pt, black!60] (rel axis cs:0,0) -- (rel axis cs:0,1);
\end{axis}

\begin{axis}[scat, at={(86.7pt,27.3pt)}, anchor=south west]
\addplot[fill=bandcol, draw=none] coordinates {(0,2900)(9.8,2100)(9.8,-3050)(0,-1700)};
\node[anno] at (rel axis cs:0.025,0.975) {TCGA-HNSC(N=517)\\r=-0.21\\p=2.2e-6};
\addplot[dots, hnsc] coordinates {(0.0,1800)(0.0,-700)(0.1,400)(0.2,2300)(0.2,-1500)(0.3,1000)(0.3,-300)(0.4,2700)(0.4,-1100)(0.5,1500)(0.5,200)(0.6,-3000)(0.6,-600)(0.7,1900)(0.7,700)(0.8,-1700)(0.8,3000)(0.9,-200)(0.9,1200)(1.0,2200)(1.0,-900)(1.1,-2400)(1.1,500)(1.2,1600)(1.2,-400)(1.3,3300)(1.3,900)(1.4,-1300)(1.4,2000)(1.5,100)(1.5,-2000)(1.6,1300)(1.6,2800)(1.7,-700)(1.7,600)(1.8,3600)(1.8,-1500)(1.9,1800)(1.9,-100)(2.0,1000)(2.0,-2300)(2.1,2500)(2.1,300)(2.2,-1000)(2.2,1500)(2.3,-300)(2.3,3100)(2.4,800)(2.4,-1700)(2.5,2000)(2.5,-500)(2.6,1200)(2.6,-2100)(2.7,400)(2.7,2700)(2.8,-1200)(2.8,1700)(2.9,-200)(2.9,900)(3.0,3200)(3.0,-1600)(3.1,600)(3.1,2200)(3.2,-800)(3.2,1300)(3.3,-2400)(3.3,100)(3.4,1900)(3.4,-400)(3.5,3900)(3.5,900)(3.6,-1300)(3.6,2500)(3.7,300)(3.7,-2000)(3.8,1500)(3.8,-600)(3.9,700)(3.9,2900)(4.0,-1000)(4.0,200)(4.1,1800)(4.1,-1700)(4.2,-300)(4.2,1100)(4.3,2300)(4.3,-2200)(4.4,500)(4.4,-800)(4.5,1500)(4.5,-2800)(4.6,-100)(4.6,2700)(4.7,800)(4.7,-1400)(4.8,1900)(4.9,-500)(4.9,300)(5.0,-2000)(5.0,1200)(5.1,-900)(5.2,2100)(5.3,-200)(5.4,-1600)(5.5,700)(5.6,1500)(5.7,-1100)(5.8,-2400)(5.9,300)(6.0,4300)(6.0,-700)(6.1,3400)(6.2,1100)(6.3,-1900)(6.4,-300)(6.5,1600)(6.6,-1200)(6.8,500)(6.9,2000)(7.0,-600)(7.1,-1500)(7.2,900)(7.4,-300)(7.5,2700)(7.6,-1100)(7.8,400)(7.9,-1800)(8.0,1000)(8.1,-2100)(8.2,-600)(8.4,300)(8.5,-1300)(8.7,1800)(8.9,-300)(9.2,100)(9.5,-900)(9.8,2100)(1.5,4100)(2.4,3500)(3.9,-2700)(4.6,-2500)(1.0,-1900)};
\addplot[dots, hnsc] coordinates {(0.3,-1900)(0.5,2700)(0.7,-1200)(0.9,400)(1.1,1800)(1.2,-1800)(1.4,700)(1.6,-300)(1.7,2200)(1.8,400)(1.9,-2100)(2.0,2800)(2.1,-700)(2.2,600)(2.3,1900)(2.4,-800)(2.5,900)(2.6,3300)(2.7,-1500)(2.8,500)(2.9,2200)(3.0,-300)(3.1,1500)(3.2,-2000)(3.3,2600)(3.4,600)(3.5,-1000)(3.6,1200)(3.7,2100)(3.8,-1700)(3.9,-100)(4.0,1400)(4.1,-600)(4.2,2600)(4.3,-1300)(4.4,1800)(4.5,300)(4.7,-500)(4.8,-2100)(5.0,600)(5.2,-1300)(5.4,1000)(5.6,-400)(5.8,1800)(6.1,-1300)(6.4,600)(6.7,-2500)(7.0,1300)(7.3,-800)(7.7,-2000)(8.3,-1500)(8.6,-900)};
\addplot[black, line width=0.6pt] coordinates {(0,800)(9.8,-500)};
\draw[line width=1.6pt, black!60] (rel axis cs:0,0) -- (rel axis cs:0,1);
\end{axis}

\begin{axis}[scat, at={(291pt,27.3pt)}, anchor=south west]
\addplot[fill=bandcol, draw=none] coordinates {(0,2400)(8.9,1100)(8.9,-3750)(0,-2450)};
\node[anno] at (rel axis cs:0.025,0.975) {TCGA-OV(N=417)\\r=-0.16\\p=7.3e-4};
\addplot[dots, ov] coordinates {(0.0,2000)(0.0,300)(0.0,-1300)(0.1,1200)(0.1,-600)(0.1,-2500)(0.2,2700)(0.2,500)(0.2,-1800)(0.3,1500)(0.3,-200)(0.3,-3100)(0.4,800)(0.4,-1100)(0.5,2200)(0.5,-400)(0.5,-2200)(0.6,1100)(0.6,-900)(0.7,300)(0.7,-3200)(0.7,1700)(0.8,-1500)(0.8,600)(0.9,2500)(0.9,-300)(0.9,-2700)(1.0,1300)(1.0,-800)(1.1,100)(1.1,-1900)(1.2,1900)(1.2,-3400)(1.3,700)(1.3,-1200)(1.4,-300)(1.4,2300)(1.5,-2300)(1.5,1000)(1.6,-700)(1.6,-3100)(1.7,1500)(1.7,200)(1.8,-1600)(1.8,2800)(1.9,-500)(1.9,800)(2.0,3100)(2.0,-2100)(2.1,1300)(2.1,-1100)(2.2,400)(2.2,-2800)(2.3,1900)(2.3,-300)(2.4,-1500)(2.4,900)(2.5,2400)(2.5,-800)(2.6,-2400)(2.6,100)(2.7,1500)(2.7,-1200)(2.8,600)(2.8,-3300)(2.9,-500)(2.9,2000)(3.0,-1800)(3.0,1000)(3.1,2800)(3.1,-900)(3.2,300)(3.2,-2200)(3.3,1600)(3.3,-400)(3.4,-1500)(3.5,700)(3.5,-2700)(3.6,2100)(3.7,-1000)(3.8,200)(3.9,1300)(4.0,-2000)(4.1,-600)(4.2,900)(4.3,-1400)(4.4,2100)(4.5,-300)(4.6,-2400)(4.7,600)(4.8,-1100)(4.9,1500)(5.0,-1800)(5.1,100)(5.2,-3000)(5.3,-700)(5.4,1100)(5.5,-1400)(5.6,-300)(5.7,-2300)(5.8,800)(5.9,-1000)(6.0,-2700)(6.2,400)(6.4,-1600)(6.5,-400)(6.7,1200)(6.9,-2100)(7.1,-900)(7.3,300)(7.5,-1700)(7.7,-2900)(7.9,-600)(8.2,-1500)(8.5,100)(8.8,-2200)(0.6,2900)(1.3,-3400)(3.0,2900)(0.4,-3600)};
\addplot[dots, ov] coordinates {(0.1,2600)(0.2,-900)(0.3,600)(0.4,-2000)(0.5,1300)(0.6,-1500)(0.7,-400)(0.8,2000)(0.9,-1800)(1.0,500)(1.1,-2600)(1.2,-100)(1.3,1600)(1.4,-1700)(1.5,300)(1.6,2000)(1.7,-1100)(1.8,-2900)(1.9,1200)(2.0,-400)(2.1,-2500)(2.2,1600)(2.3,-1800)(2.4,300)(2.5,-3000)(2.6,1900)(2.7,-600)(2.8,-1800)(2.9,1100)(3.0,-200)(3.1,-2700)(3.2,1200)(3.3,-1300)(3.4,500)(3.6,-1900)(3.7,700)(3.8,-700)(3.9,-2400)(4.0,800)(4.2,-1600)(4.4,-500)(4.6,1000)(4.8,-2100)(5.0,300)(5.3,-1700)(5.6,600)(6.0,-500)(6.3,-2300)(6.8,-700)(7.4,-1200)(8.0,-2500)(8.7,-800)};
\addplot[black, line width=0.6pt] coordinates {(0,-100)(8.9,-1300)};
\draw[line width=1.6pt, black!60] (rel axis cs:0,0) -- (rel axis cs:0,1);
\end{axis}

\begin{axis}[scat, at={(496pt,27.3pt)}, anchor=south west]
\addplot[fill=bandcol, draw=none] coordinates {(0,4000)(10.7,1100)(10.7,-4400)(0,-1600)};
\node[anno] at (rel axis cs:0.025,0.975) {TCGA-BLCA(N=405)\\r=-0.46\\p=2.4e-22};
\addplot[dots, blca] coordinates {(0.0,4200)(0.1,2300)(0.1,-300)(0.2,1300)(0.3,3100)(0.3,-1100)(0.4,600)(0.5,2700)(0.5,-1700)(0.6,1700)(0.7,-200)(0.8,3600)(0.8,900)(0.9,-2100)(1.0,2000)(1.1,300)(1.2,-1300)(1.2,2900)(1.3,1000)(1.4,-700)(1.5,3300)(1.5,1600)(1.6,-2500)(1.7,400)(1.8,2200)(1.9,-1000)(2.0,1200)(2.0,3800)(2.1,-300)(2.2,-1800)(2.3,2600)(2.4,700)(2.5,-900)(2.6,1800)(2.7,-2300)(2.8,100)(2.9,3000)(3.0,1100)(3.0,-1400)(3.1,-400)(3.2,2100)(3.3,400)(3.4,-2800)(3.5,1500)(3.6,-800)(3.7,2600)(3.8,-100)(3.9,-1900)(4.0,900)(4.1,1900)(4.2,-1200)(4.3,-300)(4.4,2400)(4.5,500)(4.6,-2300)(4.7,1300)(4.8,-700)(4.9,100)(5.0,-1600)(5.1,1700)(5.2,-3000)(5.3,600)(5.4,-500)(5.5,2100)(5.6,-1200)(5.7,200)(5.8,-2000)(5.9,1000)(6.0,-800)(6.1,-2600)(6.2,1500)(6.3,-300)(6.4,-1500)(6.5,600)(6.6,-2200)(6.7,-900)(6.8,1200)(6.9,-3300)(7.0,-100)(7.1,-1700)(7.2,800)(7.3,-2500)(7.4,-600)(7.5,1700)(7.6,-1300)(7.7,-3000)(7.8,300)(7.9,-2000)(8.0,-800)(8.1,1000)(8.2,-2600)(8.3,-1400)(8.4,-200)(8.5,-3300)(8.6,700)(8.7,-1900)(8.8,-900)(8.9,-2700)(9.0,300)(9.1,-1500)(9.2,-3600)(9.3,-500)(9.4,-2200)(9.5,900)(9.6,-1200)(9.7,-2900)(9.8,-300)(9.9,-1800)(10.0,-3800)(10.1,-700)(10.2,-2400)(10.3,200)(10.4,-1500)(10.5,-3100)(10.6,-900)(10.7,-2000)(0.6,3900)(2.6,3500)(4.4,3300)(1.0,-2800)};
\addplot[dots, blca] coordinates {(0.2,-1000)(0.4,3000)(0.6,200)(0.9,1400)(1.1,-600)(1.3,2400)(1.6,700)(1.8,-1700)(2.1,1900)(2.3,-300)(2.5,1200)(2.8,-1200)(3.0,2300)(3.3,-800)(3.5,300)(3.7,-2100)(4.0,1600)(4.2,-400)(4.5,-1600)(4.7,2000)(5.0,300)(5.2,-1000)(5.5,-2400)(5.7,1100)(6.0,-1500)(6.2,400)(6.5,-2800)(6.7,1000)(7.0,-1200)(7.2,-2100)(7.5,100)(7.7,-1700)(8.0,-3100)(8.2,500)(8.5,-1200)(8.7,-2400)(9.0,-700)(9.2,-1900)(9.5,-3200)(9.7,-100)(10.0,-1300)(10.2,-2800)(10.5,-600)(10.6,-3500)(3.9,3100)(5.8,2600)(7.3,1800)(9.3,1100)};
\addplot[black, line width=0.6pt] coordinates {(0,1200)(10.7,-1800)};
\draw[line width=1.6pt, black!60] (rel axis cs:0,0) -- (rel axis cs:0,1);
\end{axis}
\end{tikzpicture}
\end{document}
